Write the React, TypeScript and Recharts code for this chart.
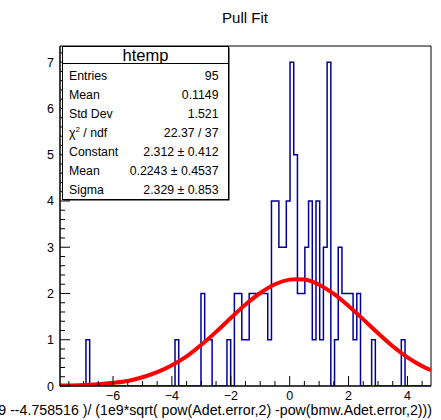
import { ComposedChart, Line, XAxis, YAxis, ReferenceArea } from 'recharts'

// histogram binning of htemp
const X_MIN = -7.8
const X_MAX = 4.8
const N_BINS = 100
const Y_MAX = 7.35

// bin contents (bins 0..99)
const binCounts = [
  0, 0, 0, 0, 0, 0, 0, 1, 0, 0,
  0, 0, 0, 0, 0, 0, 0, 0, 0, 0,
  0, 0, 0, 0, 0, 0, 0, 0, 0, 0,
  0, 1, 0, 0, 0, 0, 0, 0, 2, 1,
  1, 0, 0, 0, 0, 1, 0, 2, 2, 1,
  1, 2, 2, 2, 2, 2, 1, 4, 4, 3,
  3, 4, 7, 5, 2, 2, 3, 4, 1, 4,
  1, 3, 7, 0, 1, 3, 2, 2, 2, 1,
  2, 0, 0, 0, 1, 0, 0, 0, 0, 0,
  0, 0, 1, 0, 0, 0, 0, 0, 0, 0,
]

// gaussian fit curve
const fitX = [-7.8, -7.5, -7, -6.5, -6, -5.5, -5, -4.5, -4, -3.5, -3, -2.5, -2, -1.5, -1, -0.5, 0, 0.22, 0.5, 1, 1.5, 2, 2.5, 3, 3.5, 4, 4.5, 4.8]
const fitY = [0.01, 0.01, 0.02, 0.04, 0.07, 0.11, 0.19, 0.3, 0.45, 0.64, 0.89, 1.17, 1.47, 1.76, 2.01, 2.2, 2.3, 2.31, 2.3, 2.19, 1.99, 1.73, 1.44, 1.14, 0.86, 0.62, 0.43, 0.34]

const xMajorTicks = [-6, -4, -2, 0, 2, 4]
const yMajorTicks = [0, 1, 2, 3, 4, 5, 6, 7]

const statLabels = ['Entries', 'Mean', 'Std Dev', 'CHI2', 'Constant', 'Mean', 'Sigma']
const statValues = ['95', '0.1149', '1.521', '22.37 / 37', '2.312 \u00b1 0.412', '0.2243 \u00b1 0.4537', '2.329 \u00b1 0.853']

const TITLE = 'Pull Fit'
const X_TITLE = '9 --4.758516 )/ (1e9*sqrt( pow(Adet.error,2) -pow(bmw.Adet.error,2)))'

const FONT = '"Liberation Sans", Arial, Helvetica, sans-serif'

const binWidth = (X_MAX - X_MIN) / N_BINS
const histData = binCounts
  .map((c, i) => ({ x: X_MIN + i * binWidth, y: c }))
  .concat([{ x: X_MAX, y: 0 }])
const fitData = fitX.map((x, i) => ({ x, y: fitY[i] }))

const xTicks: number[] = []
for (let i = 0; i <= 24; i++) xTicks.push(-7.5 + i * 0.5)
const yTicks: number[] = []
for (let i = 0; i <= 36; i++) yTicks.push(Math.round(i * 2) / 10)

const fmt = (v: number) => (v < 0 ? '\u2212' + Math.abs(v) : String(v))

function XTick(props: any) {
  const { x, y, payload } = props
  const v = payload.value
  const major = xMajorTicks.some(t => Math.abs(t - v) < 1e-6)
  return (
    <g>
      <line x1={x} y1={y} x2={x} y2={y - (major ? 10 : 5)} stroke="#000" strokeWidth={1} />
      {major && (
        <text x={x} y={y + 13.5} textAnchor="middle" fontSize={12.5} fontFamily={FONT} fill="#000">
          {fmt(v)}
        </text>
      )}
    </g>
  )
}

function YTick(props: any) {
  const { x, y, payload } = props
  const v = payload.value
  const major = yMajorTicks.some(t => Math.abs(t - v) < 1e-6)
  return (
    <g>
      <line x1={x} y1={y} x2={x + (major ? 10 : 5)} y2={y} stroke="#000" strokeWidth={1} />
      {major && (
        <text x={x - 6} y={y + 4.5} textAnchor="end" fontSize={12.5} fontFamily={FONT} fill="#000">
          {fmt(v)}
        </text>
      )}
    </g>
  )
}

export default function App() {
  return (
    <div style={{ position: 'absolute', left: 0, top: 0, width: 441, height: 420, background: '#fff', overflow: 'hidden' }}>
      <ComposedChart width={441} height={420} margin={{ top: 46, right: 10, bottom: 0, left: 0 }}>
        <XAxis
          dataKey="x"
          type="number"
          domain={[X_MIN, X_MAX]}
          allowDataOverflow
          ticks={xTicks}
          interval={0}
          height={34}
          tickSize={0}
          tickMargin={0}
          tickLine={false}
          axisLine={{ stroke: '#000' }}
          tick={<XTick />}
        />
        <YAxis
          type="number"
          domain={[0, Y_MAX]}
          allowDataOverflow
          ticks={yTicks}
          interval={0}
          width={60}
          tickSize={0}
          tickMargin={0}
          tickLine={false}
          axisLine={{ stroke: '#000' }}
          tick={<YTick />}
        />
        <Line
          data={histData}
          dataKey="y"
          type="stepAfter"
          stroke="#000099"
          strokeWidth={1.5}
          dot={false}
          activeDot={false}
          isAnimationActive={false}
        />
        <Line
          data={fitData}
          dataKey="y"
          type="monotone"
          stroke="#ff0000"
          strokeWidth={4}
          dot={false}
          activeDot={false}
          isAnimationActive={false}
        />
        <ReferenceArea x1={X_MIN} x2={X_MAX} y1={0} y2={Y_MAX} fill="none" stroke="#000" strokeWidth={1} ifOverflow="visible" />
      </ComposedChart>
      <svg width={441} height={420} style={{ position: 'absolute', left: 0, top: 0, pointerEvents: 'none' }}>
        <text x={245} y={23} textAnchor="middle" fontSize={15} fontFamily={FONT} fill="#000">
          {TITLE}
        </text>
        <rect x={63.5} y={47.5} width={166} height={153} fill="#000" />
        <rect x={62.5} y={46.5} width={166} height={153} fill="#fff" stroke="#000" strokeWidth={1} />
        <line x1={62.5} y1={63.5} x2={228.5} y2={63.5} stroke="#000" strokeWidth={1} />
        <text x={145.5} y={60.5} textAnchor="middle" fontSize={16.5} fontFamily={FONT} fill="#000">
          htemp
        </text>
        {statLabels.map((label, i) => (
          <g key={i}>
            <text x={69} y={79.5 + i * 19.1} fontSize={12.3} fontFamily={FONT} fill="#000">
              {label === 'CHI2' ? (
                <>
                  <tspan>{'\u03c7'}</tspan>
                  <tspan dy={-5} fontSize={8}>2</tspan>
                  <tspan dy={5}>{' / ndf'}</tspan>
                </>
              ) : (
                label
              )}
            </text>
            <text x={218.5} y={79.5 + i * 19.1} textAnchor="end" fontSize={12.3} fontFamily={FONT} fill="#000">
              {statValues[i]}
            </text>
          </g>
        ))}
        <text x={432} y={415} textAnchor="end" fontSize={14.2} fontFamily={FONT} fill="#000">
          {X_TITLE}
        </text>
      </svg>
    </div>
  )
}
